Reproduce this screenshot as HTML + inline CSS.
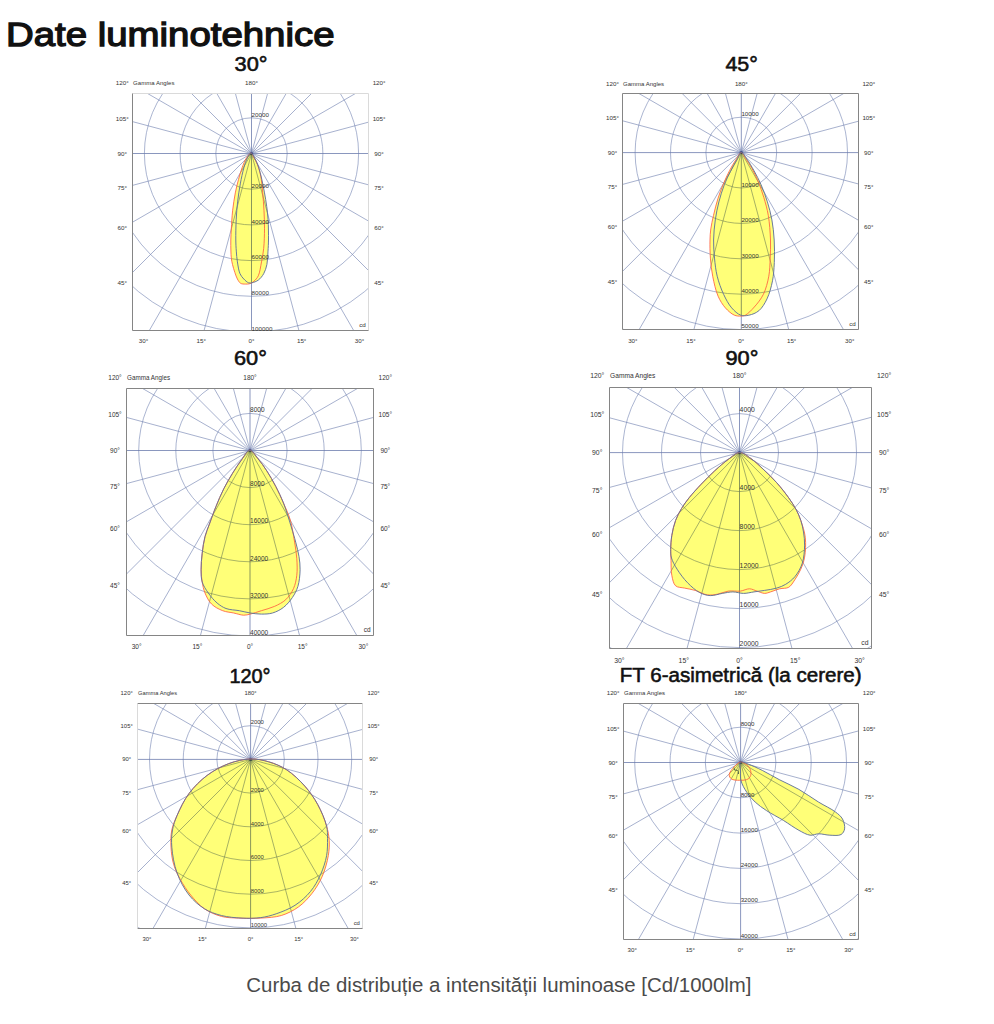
<!DOCTYPE html>
<html><head><meta charset="utf-8"><style>
html,body{margin:0;padding:0;background:#fff;width:994px;height:1024px;overflow:hidden}
svg{display:block}
</style></head><body>
<svg width="994" height="1024" viewBox="0 0 994 1024">
<text x="6" y="46.3" font-family="Liberation Sans, sans-serif" font-size="33.4" fill="#111" stroke="#111" stroke-width="1.3" textLength="328.5" lengthAdjust="spacingAndGlyphs">Date luminotehnice</text>
<g font-family="Liberation Sans, sans-serif" fill="#111" stroke="#111" stroke-width="0.55" font-size="19.5">
<text x="234.6" y="71.2" textLength="33" lengthAdjust="spacingAndGlyphs">30°</text>
<text x="725.4" y="71.2" textLength="32.5" lengthAdjust="spacingAndGlyphs">45°</text>
<text x="233.9" y="365.2" textLength="33" lengthAdjust="spacingAndGlyphs">60°</text>
<text x="725.4" y="364.8" textLength="33" lengthAdjust="spacingAndGlyphs">90°</text>
<text x="229.4" y="682.7" textLength="41.2" lengthAdjust="spacingAndGlyphs">120°</text>
<text x="619.8" y="682.3" textLength="241.8" lengthAdjust="spacingAndGlyphs">FT 6-asimetrică (la cerere)</text>
</g>
<clipPath id="c1"><rect x="132.5" y="93.5" width="236" height="237"/></clipPath>
<rect x="132.5" y="93.5" width="236" height="237" fill="#fff"/>
<g clip-path="url(#c1)">
<circle cx="251.5" cy="153.5" r="35.7" fill="none" stroke="#7787b5" stroke-width="0.62"/>
<circle cx="251.5" cy="153.5" r="71.4" fill="none" stroke="#7787b5" stroke-width="0.62"/>
<circle cx="251.5" cy="153.5" r="107.1" fill="none" stroke="#7787b5" stroke-width="0.62"/>
<circle cx="251.5" cy="153.5" r="142.8" fill="none" stroke="#7787b5" stroke-width="0.62"/>
<circle cx="251.5" cy="153.5" r="178.5" fill="none" stroke="#7787b5" stroke-width="0.62"/>
<circle cx="251.5" cy="153.5" r="214.2" fill="none" stroke="#7787b5" stroke-width="0.62"/>
<line x1="251.5" y1="153.5" x2="343.9" y2="498.34" stroke="#7080b0" stroke-width="0.62"/>
<line x1="251.5" y1="153.5" x2="430" y2="462.67" stroke="#7080b0" stroke-width="0.62"/>
<line x1="251.5" y1="153.5" x2="503.94" y2="405.94" stroke="#7080b0" stroke-width="0.62"/>
<line x1="251.5" y1="153.5" x2="560.67" y2="332" stroke="#7080b0" stroke-width="0.62"/>
<line x1="251.5" y1="153.5" x2="596.34" y2="245.9" stroke="#7080b0" stroke-width="0.62"/>
<line x1="251.5" y1="153.5" x2="596.34" y2="61.1" stroke="#7080b0" stroke-width="0.62"/>
<line x1="251.5" y1="153.5" x2="560.67" y2="-25" stroke="#7080b0" stroke-width="0.62"/>
<line x1="251.5" y1="153.5" x2="503.94" y2="-98.94" stroke="#7080b0" stroke-width="0.62"/>
<line x1="251.5" y1="153.5" x2="430" y2="-155.67" stroke="#7080b0" stroke-width="0.62"/>
<line x1="251.5" y1="153.5" x2="343.9" y2="-191.34" stroke="#7080b0" stroke-width="0.62"/>
<line x1="251.5" y1="153.5" x2="159.1" y2="-191.34" stroke="#7080b0" stroke-width="0.62"/>
<line x1="251.5" y1="153.5" x2="73" y2="-155.67" stroke="#7080b0" stroke-width="0.62"/>
<line x1="251.5" y1="153.5" x2="-0.94" y2="-98.94" stroke="#7080b0" stroke-width="0.62"/>
<line x1="251.5" y1="153.5" x2="-57.67" y2="-25" stroke="#7080b0" stroke-width="0.62"/>
<line x1="251.5" y1="153.5" x2="-93.34" y2="61.1" stroke="#7080b0" stroke-width="0.62"/>
<line x1="251.5" y1="153.5" x2="-93.34" y2="245.9" stroke="#7080b0" stroke-width="0.62"/>
<line x1="251.5" y1="153.5" x2="-57.67" y2="332" stroke="#7080b0" stroke-width="0.62"/>
<line x1="251.5" y1="153.5" x2="-0.94" y2="405.94" stroke="#7080b0" stroke-width="0.62"/>
<line x1="251.5" y1="153.5" x2="73" y2="462.67" stroke="#7080b0" stroke-width="0.62"/>
<line x1="251.5" y1="153.5" x2="159.1" y2="498.34" stroke="#7080b0" stroke-width="0.62"/>
<line x1="132.5" y1="153.5" x2="368.5" y2="153.5" stroke="#6374a8" stroke-width="0.75"/>
<line x1="251.5" y1="93.5" x2="251.5" y2="330.5" stroke="#6374a8" stroke-width="0.75"/>
<circle cx="251.5" cy="153.5" r="1.6" fill="#3d4f8a"/>
<g style="mix-blend-mode:multiply">
<path d="M251,153 C249.74,152.91 247.85,155.85 246.5,157.9 C244.79,160.5 243.4,164.25 242.1,167.7 C240.71,171.39 239.6,175.34 238.5,179.4 C237.32,183.72 236.24,188.06 235.3,192.9 C234.23,198.43 233.27,204.81 232.6,210.8 C231.93,216.78 231.61,223.51 231.3,228.8 C231.06,232.97 230.87,236.28 230.8,240 C230.73,243.68 230.79,247.73 230.9,251 C230.99,253.63 231.02,255.8 231.3,258.1 C231.57,260.3 231.96,262.26 232.5,264.5 C233.12,267.06 234.03,270.08 234.9,272.6 C235.68,274.88 236.37,277.14 237.4,279 C238.31,280.64 239.22,282.46 240.6,283.3 C241.92,284.1 243.8,284.05 245.4,284.1 C247,284.15 248.75,284.1 250.2,283.6 C251.6,283.11 252.78,282.29 254,281.2 C255.51,279.85 257.15,278.18 258.3,275.8 C259.95,272.37 260.59,266.51 261.5,261.9 C262.39,257.38 263.2,253.33 263.7,248.4 C264.3,242.49 264.46,235.19 264.5,228.8 C264.54,222.67 264.3,216.79 264,210.8 C263.7,204.82 263.23,198.71 262.7,192.9 C262.19,187.36 261.89,181.71 260.9,176.7 C260.01,172.22 258.68,167.74 257.3,164.2 C256.21,161.41 254.88,159.02 253.7,157 C252.79,155.44 252.07,153.08 251,153Z" fill="#ffff78" stroke="none"/>
<path d="M251,153 C249.8,153 248.47,155.89 247.4,157.9 C246,160.53 244.97,163.99 243.9,167.7 C242.55,172.39 241.33,178.34 240.3,183.9 C239.22,189.72 238.28,195.9 237.6,201.9 C236.92,207.86 236.5,213.65 236.2,219.8 C235.88,226.33 235.73,234.27 235.8,240 C235.85,244.25 236.03,247.43 236.3,251.1 C236.57,254.73 236.81,258.24 237.4,261.9 C238.02,265.76 238.64,270.65 240,273.7 C241,275.94 242.34,277.47 243.8,279 C245.22,280.49 247.06,282.26 248.6,282.8 C249.73,283.19 250.65,283.05 251.9,282.8 C253.72,282.43 256.4,281.5 258.3,280.1 C260.38,278.57 262.29,276.17 263.7,273.7 C265.22,271.03 266.18,267.9 266.9,264.5 C267.75,260.5 267.73,255.36 268,251.1 C268.25,247.23 268.45,244.25 268.5,240 C268.57,234.27 268.47,225.85 268.1,219.8 C267.79,214.84 267.3,210.78 266.7,206.3 C266.1,201.82 265.31,197.37 264.5,192.9 C263.68,188.4 262.85,183.87 261.8,179.4 C260.75,174.91 259.57,169.86 258.2,166 C257.11,162.91 255.94,160.2 254.6,157.9 C253.49,155.99 252.2,153 251,153Z" fill="#ffff78" stroke="none"/>
</g>
<path d="M251,153 C249.74,152.91 247.85,155.85 246.5,157.9 C244.79,160.5 243.4,164.25 242.1,167.7 C240.71,171.39 239.6,175.34 238.5,179.4 C237.32,183.72 236.24,188.06 235.3,192.9 C234.23,198.43 233.27,204.81 232.6,210.8 C231.93,216.78 231.61,223.51 231.3,228.8 C231.06,232.97 230.87,236.28 230.8,240 C230.73,243.68 230.79,247.73 230.9,251 C230.99,253.63 231.02,255.8 231.3,258.1 C231.57,260.3 231.96,262.26 232.5,264.5 C233.12,267.06 234.03,270.08 234.9,272.6 C235.68,274.88 236.37,277.14 237.4,279 C238.31,280.64 239.22,282.46 240.6,283.3 C241.92,284.1 243.8,284.05 245.4,284.1 C247,284.15 248.75,284.1 250.2,283.6 C251.6,283.11 252.78,282.29 254,281.2 C255.51,279.85 257.15,278.18 258.3,275.8 C259.95,272.37 260.59,266.51 261.5,261.9 C262.39,257.38 263.2,253.33 263.7,248.4 C264.3,242.49 264.46,235.19 264.5,228.8 C264.54,222.67 264.3,216.79 264,210.8 C263.7,204.82 263.23,198.71 262.7,192.9 C262.19,187.36 261.89,181.71 260.9,176.7 C260.01,172.22 258.68,167.74 257.3,164.2 C256.21,161.41 254.88,159.02 253.7,157 C252.79,155.44 252.07,153.08 251,153Z" fill="none" stroke="#ff6040" stroke-width="0.85"/>
<path d="M251,153 C249.8,153 248.47,155.89 247.4,157.9 C246,160.53 244.97,163.99 243.9,167.7 C242.55,172.39 241.33,178.34 240.3,183.9 C239.22,189.72 238.28,195.9 237.6,201.9 C236.92,207.86 236.5,213.65 236.2,219.8 C235.88,226.33 235.73,234.27 235.8,240 C235.85,244.25 236.03,247.43 236.3,251.1 C236.57,254.73 236.81,258.24 237.4,261.9 C238.02,265.76 238.64,270.65 240,273.7 C241,275.94 242.34,277.47 243.8,279 C245.22,280.49 247.06,282.26 248.6,282.8 C249.73,283.19 250.65,283.05 251.9,282.8 C253.72,282.43 256.4,281.5 258.3,280.1 C260.38,278.57 262.29,276.17 263.7,273.7 C265.22,271.03 266.18,267.9 266.9,264.5 C267.75,260.5 267.73,255.36 268,251.1 C268.25,247.23 268.45,244.25 268.5,240 C268.57,234.27 268.47,225.85 268.1,219.8 C267.79,214.84 267.3,210.78 266.7,206.3 C266.1,201.82 265.31,197.37 264.5,192.9 C263.68,188.4 262.85,183.87 261.8,179.4 C260.75,174.91 259.57,169.86 258.2,166 C257.11,162.91 255.94,160.2 254.6,157.9 C253.49,155.99 252.2,153 251,153Z" fill="none" stroke="#62739a" stroke-width="0.95"/>
</g>
<line x1="132.5" y1="93.5" x2="368.5" y2="93.5" stroke="#dadada" stroke-width="1"/>
<line x1="368.5" y1="93.5" x2="368.5" y2="330.5" stroke="#dadada" stroke-width="1"/>
<line x1="132.5" y1="330.5" x2="368.5" y2="330.5" stroke="#858585" stroke-width="1"/>
<line x1="132.5" y1="93.5" x2="132.5" y2="330.5" stroke="#858585" stroke-width="1"/>
<g font-family="Liberation Sans, sans-serif" font-size="6.252542372881357" fill="#333333" stroke="#333333" stroke-width="0">
<text x="122.2" y="85.12" text-anchor="middle">120°</text>
<text x="379.1" y="85.12" text-anchor="middle">120°</text>
<text x="133.1" y="85.12" textLength="41.35" lengthAdjust="spacingAndGlyphs">Gamma Angles</text>
<text x="251.5" y="85.12" text-anchor="middle">180°</text>
<text x="122.2" y="121.07" text-anchor="middle">105°</text>
<text x="379.1" y="121.07" text-anchor="middle">105°</text>
<text x="122.2" y="155.72" text-anchor="middle">90°</text>
<text x="379.1" y="155.72" text-anchor="middle">90°</text>
<text x="122.2" y="190.36" text-anchor="middle">75°</text>
<text x="379.1" y="190.36" text-anchor="middle">75°</text>
<text x="122.2" y="230.37" text-anchor="middle">60°</text>
<text x="379.1" y="230.37" text-anchor="middle">60°</text>
<text x="122.2" y="285.02" text-anchor="middle">45°</text>
<text x="379.1" y="285.02" text-anchor="middle">45°</text>
<text x="143.42" y="342.92" text-anchor="middle">30°</text>
<text x="201.34" y="342.92" text-anchor="middle">15°</text>
<text x="251.5" y="342.92" text-anchor="middle">0°</text>
<text x="301.66" y="342.92" text-anchor="middle">15°</text>
<text x="359.58" y="342.92" text-anchor="middle">30°</text>
<text x="251.6" y="116.5" text-anchor="start">20000</text>
<text x="251.6" y="187.9" text-anchor="start">20000</text>
<text x="251.6" y="223.6" text-anchor="start">40000</text>
<text x="251.6" y="259.3" text-anchor="start">60000</text>
<text x="251.6" y="295" text-anchor="start">80000</text>
<text x="251.6" y="330.7" text-anchor="start">100000</text>
<text x="362.45" y="327.07" text-anchor="middle">cd</text>
</g>
<clipPath id="c2"><rect x="622.5" y="93.5" width="236" height="236"/></clipPath>
<rect x="622.5" y="93.5" width="236" height="236" fill="#fff"/>
<g clip-path="url(#c2)">
<circle cx="741.3" cy="152.6" r="35.4" fill="none" stroke="#7787b5" stroke-width="0.62"/>
<circle cx="741.3" cy="152.6" r="70.8" fill="none" stroke="#7787b5" stroke-width="0.62"/>
<circle cx="741.3" cy="152.6" r="106.2" fill="none" stroke="#7787b5" stroke-width="0.62"/>
<circle cx="741.3" cy="152.6" r="141.6" fill="none" stroke="#7787b5" stroke-width="0.62"/>
<circle cx="741.3" cy="152.6" r="177" fill="none" stroke="#7787b5" stroke-width="0.62"/>
<circle cx="741.3" cy="152.6" r="212.4" fill="none" stroke="#7787b5" stroke-width="0.62"/>
<line x1="741.3" y1="152.6" x2="832.92" y2="494.54" stroke="#7080b0" stroke-width="0.62"/>
<line x1="741.3" y1="152.6" x2="918.3" y2="459.17" stroke="#7080b0" stroke-width="0.62"/>
<line x1="741.3" y1="152.6" x2="991.62" y2="402.92" stroke="#7080b0" stroke-width="0.62"/>
<line x1="741.3" y1="152.6" x2="1047.87" y2="329.6" stroke="#7080b0" stroke-width="0.62"/>
<line x1="741.3" y1="152.6" x2="1083.24" y2="244.22" stroke="#7080b0" stroke-width="0.62"/>
<line x1="741.3" y1="152.6" x2="1083.24" y2="60.98" stroke="#7080b0" stroke-width="0.62"/>
<line x1="741.3" y1="152.6" x2="1047.87" y2="-24.4" stroke="#7080b0" stroke-width="0.62"/>
<line x1="741.3" y1="152.6" x2="991.62" y2="-97.72" stroke="#7080b0" stroke-width="0.62"/>
<line x1="741.3" y1="152.6" x2="918.3" y2="-153.97" stroke="#7080b0" stroke-width="0.62"/>
<line x1="741.3" y1="152.6" x2="832.92" y2="-189.34" stroke="#7080b0" stroke-width="0.62"/>
<line x1="741.3" y1="152.6" x2="649.68" y2="-189.34" stroke="#7080b0" stroke-width="0.62"/>
<line x1="741.3" y1="152.6" x2="564.3" y2="-153.97" stroke="#7080b0" stroke-width="0.62"/>
<line x1="741.3" y1="152.6" x2="490.98" y2="-97.72" stroke="#7080b0" stroke-width="0.62"/>
<line x1="741.3" y1="152.6" x2="434.73" y2="-24.4" stroke="#7080b0" stroke-width="0.62"/>
<line x1="741.3" y1="152.6" x2="399.36" y2="60.98" stroke="#7080b0" stroke-width="0.62"/>
<line x1="741.3" y1="152.6" x2="399.36" y2="244.22" stroke="#7080b0" stroke-width="0.62"/>
<line x1="741.3" y1="152.6" x2="434.73" y2="329.6" stroke="#7080b0" stroke-width="0.62"/>
<line x1="741.3" y1="152.6" x2="490.98" y2="402.92" stroke="#7080b0" stroke-width="0.62"/>
<line x1="741.3" y1="152.6" x2="564.3" y2="459.17" stroke="#7080b0" stroke-width="0.62"/>
<line x1="741.3" y1="152.6" x2="649.68" y2="494.54" stroke="#7080b0" stroke-width="0.62"/>
<line x1="622.5" y1="152.6" x2="858.5" y2="152.6" stroke="#6374a8" stroke-width="0.75"/>
<line x1="741.3" y1="93.5" x2="741.3" y2="329.5" stroke="#6374a8" stroke-width="0.75"/>
<circle cx="741.3" cy="152.6" r="1.6" fill="#3d4f8a"/>
<g style="mix-blend-mode:multiply">
<path d="M741.3,152.5 C739.59,152.48 737.69,157 735.9,159.7 C733.79,162.88 731.61,166.66 729.6,170.5 C727.42,174.68 725.32,179.32 723.4,183.9 C721.44,188.58 719.61,193.25 718,198.3 C716.28,203.71 714.74,210.02 713.5,215.4 C712.4,220.15 711.38,224.6 710.8,228.9 C710.28,232.76 710.1,235.85 710,240 C709.87,245.3 709.95,252.08 710.4,258.1 C710.85,264.15 711.49,270.06 712.7,276.2 C713.99,282.74 715.65,290.57 718.1,296.2 C720.1,300.79 722.53,304.65 725.4,307.9 C728.03,310.88 731.48,313.93 734.4,315.2 C736.58,316.15 738.86,316.16 740.8,316.1 C742.44,316.05 743.67,316.02 745.3,315.2 C747.96,313.86 751.45,310.2 754.3,307 C757.53,303.37 761.03,299.13 763.4,294.3 C766,288.99 767.67,282.29 768.8,276.2 C769.91,270.23 769.92,264.14 770.2,258.1 C770.48,252.07 770.74,246.49 770.5,240 C770.22,232.42 769.57,222.92 768.3,215.4 C767.2,208.89 765.52,203.12 763.8,197.4 C762.19,192.05 760.4,186.98 758.4,182.1 C756.49,177.44 754.34,172.76 752.1,168.7 C750.11,165.08 747.76,161.71 745.8,158.8 C744.21,156.44 742.88,152.52 741.3,152.5Z" fill="#ffff78" stroke="none"/>
<path d="M741.3,152.5 C739.64,152.62 738.38,156.98 736.8,159.7 C734.82,163.1 732.53,167.34 730.5,171.4 C728.36,175.68 726.16,180 724.3,184.8 C722.25,190.09 720.39,196.09 718.9,201.9 C717.39,207.78 716.18,213.71 715.3,219.9 C714.38,226.39 713.71,233.47 713.6,240 C713.49,246.19 713.9,252.08 714.5,258.1 C715.1,264.15 715.72,270.24 717.2,276.2 C718.72,282.31 721.03,288.81 723.6,294.3 C725.94,299.28 728.55,304.28 731.7,307.9 C734.4,311.01 737.65,314.09 740.8,315.2 C743.42,316.12 746.12,315.8 748.9,315.2 C752.13,314.51 756.02,313.11 758.9,310.7 C762.19,307.95 764.81,303.44 767,298.9 C769.51,293.67 771.28,286.9 772.5,280.8 C773.7,274.8 774,269 774.3,262.6 C774.64,255.48 774.63,247.3 774.2,240 C773.79,233.09 773.08,226.38 771.9,219.9 C770.77,213.7 769.21,207.78 767.4,201.9 C765.61,196.08 763.44,190.18 761.1,184.8 C758.91,179.75 756.4,174.98 753.9,170.5 C751.59,166.35 749.05,162.03 746.7,158.8 C744.87,156.29 742.94,152.38 741.3,152.5Z" fill="#ffff78" stroke="none"/>
</g>
<path d="M741.3,152.5 C739.59,152.48 737.69,157 735.9,159.7 C733.79,162.88 731.61,166.66 729.6,170.5 C727.42,174.68 725.32,179.32 723.4,183.9 C721.44,188.58 719.61,193.25 718,198.3 C716.28,203.71 714.74,210.02 713.5,215.4 C712.4,220.15 711.38,224.6 710.8,228.9 C710.28,232.76 710.1,235.85 710,240 C709.87,245.3 709.95,252.08 710.4,258.1 C710.85,264.15 711.49,270.06 712.7,276.2 C713.99,282.74 715.65,290.57 718.1,296.2 C720.1,300.79 722.53,304.65 725.4,307.9 C728.03,310.88 731.48,313.93 734.4,315.2 C736.58,316.15 738.86,316.16 740.8,316.1 C742.44,316.05 743.67,316.02 745.3,315.2 C747.96,313.86 751.45,310.2 754.3,307 C757.53,303.37 761.03,299.13 763.4,294.3 C766,288.99 767.67,282.29 768.8,276.2 C769.91,270.23 769.92,264.14 770.2,258.1 C770.48,252.07 770.74,246.49 770.5,240 C770.22,232.42 769.57,222.92 768.3,215.4 C767.2,208.89 765.52,203.12 763.8,197.4 C762.19,192.05 760.4,186.98 758.4,182.1 C756.49,177.44 754.34,172.76 752.1,168.7 C750.11,165.08 747.76,161.71 745.8,158.8 C744.21,156.44 742.88,152.52 741.3,152.5Z" fill="none" stroke="#ff6040" stroke-width="0.85"/>
<path d="M741.3,152.5 C739.64,152.62 738.38,156.98 736.8,159.7 C734.82,163.1 732.53,167.34 730.5,171.4 C728.36,175.68 726.16,180 724.3,184.8 C722.25,190.09 720.39,196.09 718.9,201.9 C717.39,207.78 716.18,213.71 715.3,219.9 C714.38,226.39 713.71,233.47 713.6,240 C713.49,246.19 713.9,252.08 714.5,258.1 C715.1,264.15 715.72,270.24 717.2,276.2 C718.72,282.31 721.03,288.81 723.6,294.3 C725.94,299.28 728.55,304.28 731.7,307.9 C734.4,311.01 737.65,314.09 740.8,315.2 C743.42,316.12 746.12,315.8 748.9,315.2 C752.13,314.51 756.02,313.11 758.9,310.7 C762.19,307.95 764.81,303.44 767,298.9 C769.51,293.67 771.28,286.9 772.5,280.8 C773.7,274.8 774,269 774.3,262.6 C774.64,255.48 774.63,247.3 774.2,240 C773.79,233.09 773.08,226.38 771.9,219.9 C770.77,213.7 769.21,207.78 767.4,201.9 C765.61,196.08 763.44,190.18 761.1,184.8 C758.91,179.75 756.4,174.98 753.9,170.5 C751.59,166.35 749.05,162.03 746.7,158.8 C744.87,156.29 742.94,152.38 741.3,152.5Z" fill="none" stroke="#62739a" stroke-width="0.95"/>
</g>
<line x1="622.5" y1="93.5" x2="858.5" y2="93.5" stroke="#858585" stroke-width="1"/>
<line x1="858.5" y1="93.5" x2="858.5" y2="329.5" stroke="#858585" stroke-width="1"/>
<line x1="622.5" y1="329.5" x2="858.5" y2="329.5" stroke="#858585" stroke-width="1"/>
<line x1="622.5" y1="93.5" x2="622.5" y2="329.5" stroke="#858585" stroke-width="1"/>
<g font-family="Liberation Sans, sans-serif" font-size="6.2" fill="#333333" stroke="#333333" stroke-width="0">
<text x="612.5" y="86.3" text-anchor="middle">120°</text>
<text x="868.8" y="86.3" text-anchor="middle">120°</text>
<text x="623.1" y="86.3" textLength="41" lengthAdjust="spacingAndGlyphs">Gamma Angles</text>
<text x="741.3" y="86.3" text-anchor="middle">180°</text>
<text x="612.5" y="120.29" text-anchor="middle">105°</text>
<text x="868.8" y="120.29" text-anchor="middle">105°</text>
<text x="612.5" y="154.8" text-anchor="middle">90°</text>
<text x="868.8" y="154.8" text-anchor="middle">90°</text>
<text x="612.5" y="189.31" text-anchor="middle">75°</text>
<text x="868.8" y="189.31" text-anchor="middle">75°</text>
<text x="612.5" y="229.16" text-anchor="middle">60°</text>
<text x="868.8" y="229.16" text-anchor="middle">60°</text>
<text x="612.5" y="283.6" text-anchor="middle">45°</text>
<text x="868.8" y="283.6" text-anchor="middle">45°</text>
<text x="632.82" y="342.7" text-anchor="middle">30°</text>
<text x="690.95" y="342.7" text-anchor="middle">15°</text>
<text x="741.3" y="342.7" text-anchor="middle">0°</text>
<text x="791.65" y="342.7" text-anchor="middle">15°</text>
<text x="849.78" y="342.7" text-anchor="middle">30°</text>
<text x="741.4" y="115.9" text-anchor="start">10000</text>
<text x="741.4" y="186.7" text-anchor="start">10000</text>
<text x="741.4" y="222.1" text-anchor="start">20000</text>
<text x="741.4" y="257.5" text-anchor="start">30000</text>
<text x="741.4" y="292.9" text-anchor="start">40000</text>
<text x="741.4" y="328.3" text-anchor="start">50000</text>
<text x="852.5" y="326.1" text-anchor="middle">cd</text>
</g>
<clipPath id="c3"><rect x="126.5" y="388.5" width="247" height="247"/></clipPath>
<rect x="126.5" y="388.5" width="247" height="247" fill="#fff"/>
<g clip-path="url(#c3)">
<circle cx="250" cy="450.5" r="37.1" fill="none" stroke="#7787b5" stroke-width="0.62"/>
<circle cx="250" cy="450.5" r="74.2" fill="none" stroke="#7787b5" stroke-width="0.62"/>
<circle cx="250" cy="450.5" r="111.3" fill="none" stroke="#7787b5" stroke-width="0.62"/>
<circle cx="250" cy="450.5" r="148.4" fill="none" stroke="#7787b5" stroke-width="0.62"/>
<circle cx="250" cy="450.5" r="185.5" fill="none" stroke="#7787b5" stroke-width="0.62"/>
<circle cx="250" cy="450.5" r="222.6" fill="none" stroke="#7787b5" stroke-width="0.62"/>
<line x1="250" y1="450.5" x2="346.02" y2="808.86" stroke="#7080b0" stroke-width="0.62"/>
<line x1="250" y1="450.5" x2="435.5" y2="771.8" stroke="#7080b0" stroke-width="0.62"/>
<line x1="250" y1="450.5" x2="512.34" y2="712.84" stroke="#7080b0" stroke-width="0.62"/>
<line x1="250" y1="450.5" x2="571.3" y2="636" stroke="#7080b0" stroke-width="0.62"/>
<line x1="250" y1="450.5" x2="608.36" y2="546.52" stroke="#7080b0" stroke-width="0.62"/>
<line x1="250" y1="450.5" x2="608.36" y2="354.48" stroke="#7080b0" stroke-width="0.62"/>
<line x1="250" y1="450.5" x2="571.3" y2="265" stroke="#7080b0" stroke-width="0.62"/>
<line x1="250" y1="450.5" x2="512.34" y2="188.16" stroke="#7080b0" stroke-width="0.62"/>
<line x1="250" y1="450.5" x2="435.5" y2="129.2" stroke="#7080b0" stroke-width="0.62"/>
<line x1="250" y1="450.5" x2="346.02" y2="92.14" stroke="#7080b0" stroke-width="0.62"/>
<line x1="250" y1="450.5" x2="153.98" y2="92.14" stroke="#7080b0" stroke-width="0.62"/>
<line x1="250" y1="450.5" x2="64.5" y2="129.2" stroke="#7080b0" stroke-width="0.62"/>
<line x1="250" y1="450.5" x2="-12.34" y2="188.16" stroke="#7080b0" stroke-width="0.62"/>
<line x1="250" y1="450.5" x2="-71.3" y2="265" stroke="#7080b0" stroke-width="0.62"/>
<line x1="250" y1="450.5" x2="-108.36" y2="354.48" stroke="#7080b0" stroke-width="0.62"/>
<line x1="250" y1="450.5" x2="-108.36" y2="546.52" stroke="#7080b0" stroke-width="0.62"/>
<line x1="250" y1="450.5" x2="-71.3" y2="636" stroke="#7080b0" stroke-width="0.62"/>
<line x1="250" y1="450.5" x2="-12.34" y2="712.84" stroke="#7080b0" stroke-width="0.62"/>
<line x1="250" y1="450.5" x2="64.5" y2="771.8" stroke="#7080b0" stroke-width="0.62"/>
<line x1="250" y1="450.5" x2="153.98" y2="808.86" stroke="#7080b0" stroke-width="0.62"/>
<line x1="126.5" y1="450.5" x2="373.5" y2="450.5" stroke="#6374a8" stroke-width="0.75"/>
<line x1="250" y1="388.5" x2="250" y2="635.5" stroke="#6374a8" stroke-width="0.75"/>
<circle cx="250" cy="450.5" r="1.6" fill="#3d4f8a"/>
<g style="mix-blend-mode:multiply">
<path d="M249.8,450.2 C246.99,450.28 244.21,456.32 241.5,459.9 C238.46,463.9 235.48,468.54 232.6,473.2 C229.57,478.12 226.52,483.29 223.8,488.7 C220.97,494.34 218.41,500.46 216,506.4 C213.62,512.27 211.36,518.7 209.4,524.1 C207.76,528.62 206.17,532.08 205,536.6 C203.69,541.69 202.85,547.65 202.2,553.2 C201.55,558.72 201.04,564.69 201.1,569.8 C201.15,574.18 201.53,578.06 202.2,582 C202.85,585.79 203.52,589.43 205,593 C206.58,596.81 208.65,601.15 211.6,604.1 C214.55,607.05 218.88,609.21 222.7,610.7 C226.26,612.09 230.12,612.23 233.7,613 C237.11,613.73 240.71,615.12 243.7,615.2 C246.12,615.26 247.84,614.68 250.3,614.1 C253.54,613.34 257.54,611.93 261.4,610.7 C265.64,609.35 270.57,608.19 274.7,606.3 C278.65,604.49 282.59,602.59 285.7,599.7 C288.89,596.73 291.65,592.65 293.5,588.6 C295.36,584.52 296.22,580.02 296.8,575.3 C297.43,570.11 297.16,564.22 296.8,558.7 C296.43,553.15 295.57,548.03 294.6,542.1 C293.46,535.18 292.23,526.52 290.2,519.7 C288.41,513.66 285.89,508.6 283.5,503.1 C281.09,497.54 278.59,491.88 275.8,486.5 C273.05,481.18 269.99,475.78 266.9,471 C264.07,466.61 261.12,462.42 258.1,458.8 C255.4,455.58 252.52,450.12 249.8,450.2Z" fill="#ffff78" stroke="none"/>
<path d="M249.8,450.2 C246.99,450.28 244.21,456.32 241.5,459.9 C238.46,463.9 235.48,468.54 232.6,473.2 C229.57,478.12 226.52,483.29 223.8,488.7 C220.97,494.34 218.41,500.46 216,506.4 C213.62,512.27 211.36,518.7 209.4,524.1 C207.76,528.62 206.17,532.08 205,536.6 C203.69,541.69 202.85,547.65 202.2,553.2 C201.55,558.72 201.04,564.69 201.1,569.8 C201.15,574.18 201.02,578.16 202.2,582 C203.4,585.9 205.86,589.54 208.3,593 C210.81,596.56 213.95,600.34 217.1,603 C219.89,605.36 222.59,607.22 226,608.5 C229.87,609.95 235.08,609.91 239.3,610.7 C243.15,611.42 246.61,612.43 250.3,613 C253.98,613.56 257.7,614.1 261.4,614.1 C265.1,614.1 268.9,614.05 272.5,613 C276.28,611.89 280.23,609.91 283.5,607.4 C286.9,604.79 289.98,601.07 292.4,597.5 C294.74,594.05 296.62,590.59 297.9,586.4 C299.38,581.53 299.97,575.03 300.1,569.8 C300.22,565.13 299.7,561 299,556.5 C298.27,551.77 296.94,546.86 295.7,542.1 C294.47,537.36 293.25,533.35 291.6,528 C289.4,520.86 286.4,510.48 283.5,503.1 C281.07,496.93 278.59,491.88 275.8,486.5 C273.05,481.18 269.99,475.78 266.9,471 C264.07,466.61 261.12,462.42 258.1,458.8 C255.4,455.58 252.52,450.12 249.8,450.2Z" fill="#ffff78" stroke="none"/>
</g>
<path d="M249.8,450.2 C246.99,450.28 244.21,456.32 241.5,459.9 C238.46,463.9 235.48,468.54 232.6,473.2 C229.57,478.12 226.52,483.29 223.8,488.7 C220.97,494.34 218.41,500.46 216,506.4 C213.62,512.27 211.36,518.7 209.4,524.1 C207.76,528.62 206.17,532.08 205,536.6 C203.69,541.69 202.85,547.65 202.2,553.2 C201.55,558.72 201.04,564.69 201.1,569.8 C201.15,574.18 201.53,578.06 202.2,582 C202.85,585.79 203.52,589.43 205,593 C206.58,596.81 208.65,601.15 211.6,604.1 C214.55,607.05 218.88,609.21 222.7,610.7 C226.26,612.09 230.12,612.23 233.7,613 C237.11,613.73 240.71,615.12 243.7,615.2 C246.12,615.26 247.84,614.68 250.3,614.1 C253.54,613.34 257.54,611.93 261.4,610.7 C265.64,609.35 270.57,608.19 274.7,606.3 C278.65,604.49 282.59,602.59 285.7,599.7 C288.89,596.73 291.65,592.65 293.5,588.6 C295.36,584.52 296.22,580.02 296.8,575.3 C297.43,570.11 297.16,564.22 296.8,558.7 C296.43,553.15 295.57,548.03 294.6,542.1 C293.46,535.18 292.23,526.52 290.2,519.7 C288.41,513.66 285.89,508.6 283.5,503.1 C281.09,497.54 278.59,491.88 275.8,486.5 C273.05,481.18 269.99,475.78 266.9,471 C264.07,466.61 261.12,462.42 258.1,458.8 C255.4,455.58 252.52,450.12 249.8,450.2Z" fill="none" stroke="#ff6040" stroke-width="0.85"/>
<path d="M249.8,450.2 C246.99,450.28 244.21,456.32 241.5,459.9 C238.46,463.9 235.48,468.54 232.6,473.2 C229.57,478.12 226.52,483.29 223.8,488.7 C220.97,494.34 218.41,500.46 216,506.4 C213.62,512.27 211.36,518.7 209.4,524.1 C207.76,528.62 206.17,532.08 205,536.6 C203.69,541.69 202.85,547.65 202.2,553.2 C201.55,558.72 201.04,564.69 201.1,569.8 C201.15,574.18 201.02,578.16 202.2,582 C203.4,585.9 205.86,589.54 208.3,593 C210.81,596.56 213.95,600.34 217.1,603 C219.89,605.36 222.59,607.22 226,608.5 C229.87,609.95 235.08,609.91 239.3,610.7 C243.15,611.42 246.61,612.43 250.3,613 C253.98,613.56 257.7,614.1 261.4,614.1 C265.1,614.1 268.9,614.05 272.5,613 C276.28,611.89 280.23,609.91 283.5,607.4 C286.9,604.79 289.98,601.07 292.4,597.5 C294.74,594.05 296.62,590.59 297.9,586.4 C299.38,581.53 299.97,575.03 300.1,569.8 C300.22,565.13 299.7,561 299,556.5 C298.27,551.77 296.94,546.86 295.7,542.1 C294.47,537.36 293.25,533.35 291.6,528 C289.4,520.86 286.4,510.48 283.5,503.1 C281.07,496.93 278.59,491.88 275.8,486.5 C273.05,481.18 269.99,475.78 266.9,471 C264.07,466.61 261.12,462.42 258.1,458.8 C255.4,455.58 252.52,450.12 249.8,450.2Z" fill="none" stroke="#62739a" stroke-width="0.95"/>
</g>
<line x1="126.5" y1="388.5" x2="373.5" y2="388.5" stroke="#858585" stroke-width="1"/>
<line x1="373.5" y1="388.5" x2="373.5" y2="635.5" stroke="#858585" stroke-width="1"/>
<line x1="126.5" y1="635.5" x2="373.5" y2="635.5" stroke="#858585" stroke-width="1"/>
<line x1="126.5" y1="388.5" x2="126.5" y2="635.5" stroke="#858585" stroke-width="1"/>
<g font-family="Liberation Sans, sans-serif" font-size="6.497740112994352" fill="#333333" stroke="#333333" stroke-width="0">
<text x="115" y="379.71" text-anchor="middle">120°</text>
<text x="385.3" y="379.71" text-anchor="middle">120°</text>
<text x="127.1" y="379.71" textLength="42.97" lengthAdjust="spacingAndGlyphs">Gamma Angles</text>
<text x="250" y="379.71" text-anchor="middle">180°</text>
<text x="115" y="416.63" text-anchor="middle">105°</text>
<text x="385.3" y="416.63" text-anchor="middle">105°</text>
<text x="115" y="452.81" text-anchor="middle">90°</text>
<text x="385.3" y="452.81" text-anchor="middle">90°</text>
<text x="115" y="488.98" text-anchor="middle">75°</text>
<text x="385.3" y="488.98" text-anchor="middle">75°</text>
<text x="115" y="530.75" text-anchor="middle">60°</text>
<text x="385.3" y="530.75" text-anchor="middle">60°</text>
<text x="115" y="587.81" text-anchor="middle">45°</text>
<text x="385.3" y="587.81" text-anchor="middle">45°</text>
<text x="136.61" y="649.21" text-anchor="middle">30°</text>
<text x="197.37" y="649.21" text-anchor="middle">15°</text>
<text x="250" y="649.21" text-anchor="middle">0°</text>
<text x="302.63" y="649.21" text-anchor="middle">15°</text>
<text x="363.39" y="649.21" text-anchor="middle">30°</text>
<text x="250.1" y="412.1" text-anchor="start">8000</text>
<text x="250.1" y="486.3" text-anchor="start">8000</text>
<text x="250.1" y="523.4" text-anchor="start">16000</text>
<text x="250.1" y="560.5" text-anchor="start">24000</text>
<text x="250.1" y="597.6" text-anchor="start">32000</text>
<text x="250.1" y="634.7" text-anchor="start">40000</text>
<text x="367.21" y="631.94" text-anchor="middle">cd</text>
</g>
<clipPath id="c4"><rect x="609.5" y="387.5" width="262" height="261"/></clipPath>
<rect x="609.5" y="387.5" width="262" height="261" fill="#fff"/>
<g clip-path="url(#c4)">
<circle cx="739.5" cy="452.6" r="39" fill="none" stroke="#7787b5" stroke-width="0.62"/>
<circle cx="739.5" cy="452.6" r="78" fill="none" stroke="#7787b5" stroke-width="0.62"/>
<circle cx="739.5" cy="452.6" r="117" fill="none" stroke="#7787b5" stroke-width="0.62"/>
<circle cx="739.5" cy="452.6" r="156" fill="none" stroke="#7787b5" stroke-width="0.62"/>
<circle cx="739.5" cy="452.6" r="195" fill="none" stroke="#7787b5" stroke-width="0.62"/>
<circle cx="739.5" cy="452.6" r="234" fill="none" stroke="#7787b5" stroke-width="0.62"/>
<line x1="739.5" y1="452.6" x2="840.44" y2="829.31" stroke="#7080b0" stroke-width="0.62"/>
<line x1="739.5" y1="452.6" x2="934.5" y2="790.35" stroke="#7080b0" stroke-width="0.62"/>
<line x1="739.5" y1="452.6" x2="1015.27" y2="728.37" stroke="#7080b0" stroke-width="0.62"/>
<line x1="739.5" y1="452.6" x2="1077.25" y2="647.6" stroke="#7080b0" stroke-width="0.62"/>
<line x1="739.5" y1="452.6" x2="1116.21" y2="553.54" stroke="#7080b0" stroke-width="0.62"/>
<line x1="739.5" y1="452.6" x2="1116.21" y2="351.66" stroke="#7080b0" stroke-width="0.62"/>
<line x1="739.5" y1="452.6" x2="1077.25" y2="257.6" stroke="#7080b0" stroke-width="0.62"/>
<line x1="739.5" y1="452.6" x2="1015.27" y2="176.83" stroke="#7080b0" stroke-width="0.62"/>
<line x1="739.5" y1="452.6" x2="934.5" y2="114.85" stroke="#7080b0" stroke-width="0.62"/>
<line x1="739.5" y1="452.6" x2="840.44" y2="75.89" stroke="#7080b0" stroke-width="0.62"/>
<line x1="739.5" y1="452.6" x2="638.56" y2="75.89" stroke="#7080b0" stroke-width="0.62"/>
<line x1="739.5" y1="452.6" x2="544.5" y2="114.85" stroke="#7080b0" stroke-width="0.62"/>
<line x1="739.5" y1="452.6" x2="463.73" y2="176.83" stroke="#7080b0" stroke-width="0.62"/>
<line x1="739.5" y1="452.6" x2="401.75" y2="257.6" stroke="#7080b0" stroke-width="0.62"/>
<line x1="739.5" y1="452.6" x2="362.79" y2="351.66" stroke="#7080b0" stroke-width="0.62"/>
<line x1="739.5" y1="452.6" x2="362.79" y2="553.54" stroke="#7080b0" stroke-width="0.62"/>
<line x1="739.5" y1="452.6" x2="401.75" y2="647.6" stroke="#7080b0" stroke-width="0.62"/>
<line x1="739.5" y1="452.6" x2="463.73" y2="728.37" stroke="#7080b0" stroke-width="0.62"/>
<line x1="739.5" y1="452.6" x2="544.5" y2="790.35" stroke="#7080b0" stroke-width="0.62"/>
<line x1="739.5" y1="452.6" x2="638.56" y2="829.31" stroke="#7080b0" stroke-width="0.62"/>
<line x1="609.5" y1="452.6" x2="871.5" y2="452.6" stroke="#6374a8" stroke-width="0.75"/>
<line x1="739.5" y1="387.5" x2="739.5" y2="648.5" stroke="#6374a8" stroke-width="0.75"/>
<circle cx="739.5" cy="452.6" r="1.6" fill="#3d4f8a"/>
<g style="mix-blend-mode:multiply">
<path d="M739.7,452.5 C735.91,452.59 732.23,456.57 728.4,459.3 C723.95,462.47 719.25,466.64 714.8,470.7 C710.18,474.92 705.53,479.62 701.2,484.2 C696.98,488.66 692.55,493.46 689.1,497.8 C686.18,501.47 683.84,504.67 681.6,508.4 C679.33,512.19 677.2,516.08 675.6,520.4 C673.87,525.06 672.62,530.52 671.8,535.5 C671.02,540.25 670.81,545.23 670.7,549.6 C670.61,553.38 670.84,556.36 671,560.2 C671.19,564.79 670.88,570.78 671.8,575.3 C672.59,579.18 673.28,583.69 675.6,585.8 C677.72,587.72 681.47,587.36 684.6,588.1 C687.98,588.9 691.59,589.34 695.2,590.4 C699.14,591.55 703.35,594.34 707.3,594.9 C710.87,595.4 714.32,594.72 717.8,594.1 C721.36,593.47 724.72,591.61 728.4,591.1 C732.24,590.57 736.7,591.56 740.4,591.1 C743.67,590.69 746.62,588.73 749.5,588.8 C752.13,588.87 754.49,590.34 757,591.1 C759.52,591.87 762.21,593.34 764.6,593.4 C766.71,593.45 768.41,592.55 770.6,591.9 C773.33,591.09 776.64,589.57 779.7,588.8 C782.68,588.05 786.2,588.75 788.7,587.3 C791.27,585.81 792.89,582.61 794.8,579.8 C796.95,576.65 799.17,572.93 800.8,569.2 C802.45,565.41 803.81,561.75 804.6,557.2 C805.58,551.5 806,543.79 805.3,537.5 C804.64,531.55 802.5,525.35 800.8,520.4 C799.43,516.42 798.16,513.45 796.3,509.9 C794.22,505.93 791.65,501.97 788.7,497.8 C785.27,492.95 780.97,487.49 776.7,482.7 C772.44,477.92 767.57,473.27 763.1,469.1 C759.02,465.3 755.13,461.45 751,458.6 C747.31,456.05 743.44,452.41 739.7,452.5Z" fill="#ffff78" stroke="none"/>
<path d="M739.7,452.5 C735.91,452.59 732.23,456.57 728.4,459.3 C723.95,462.47 719.25,466.64 714.8,470.7 C710.18,474.92 705.53,479.62 701.2,484.2 C696.98,488.66 692.55,493.46 689.1,497.8 C686.18,501.47 683.84,504.67 681.6,508.4 C679.33,512.19 677.2,516.08 675.6,520.4 C673.87,525.06 672.62,530.52 671.8,535.5 C671.02,540.25 670.67,545.51 670.7,549.6 C670.73,552.76 670.66,555.08 671.5,558 C672.52,561.56 674.72,565.4 677.1,569.2 C679.89,573.65 683.72,578.83 687.6,582.8 C691.29,586.58 695.58,590.46 699.7,592.6 C703.17,594.4 706.64,595.43 710.3,595.6 C714.16,595.78 718.42,594.03 722.3,593.4 C725.94,592.81 729.37,591.9 732.9,591.9 C736.43,591.9 739.98,593.4 743.5,593.4 C747.01,593.4 750.49,592.4 754,591.9 C757.52,591.4 760.96,591 764.6,590.4 C768.51,589.75 773.02,589.21 776.7,588.1 C779.98,587.11 782.81,586.05 785.7,584.3 C788.87,582.38 792.16,579.98 794.8,576.8 C797.82,573.16 800.66,568.23 802.3,563.2 C804.08,557.75 804.48,550.65 804.6,545.1 C804.7,540.39 804.16,536.21 803.5,532 C802.87,527.99 802.02,524.12 800.8,520.4 C799.61,516.76 798.16,513.45 796.3,509.9 C794.22,505.93 791.65,501.97 788.7,497.8 C785.27,492.95 780.97,487.49 776.7,482.7 C772.44,477.92 767.57,473.27 763.1,469.1 C759.02,465.3 755.13,461.45 751,458.6 C747.31,456.05 743.44,452.41 739.7,452.5Z" fill="#ffff78" stroke="none"/>
</g>
<path d="M739.7,452.5 C735.91,452.59 732.23,456.57 728.4,459.3 C723.95,462.47 719.25,466.64 714.8,470.7 C710.18,474.92 705.53,479.62 701.2,484.2 C696.98,488.66 692.55,493.46 689.1,497.8 C686.18,501.47 683.84,504.67 681.6,508.4 C679.33,512.19 677.2,516.08 675.6,520.4 C673.87,525.06 672.62,530.52 671.8,535.5 C671.02,540.25 670.81,545.23 670.7,549.6 C670.61,553.38 670.84,556.36 671,560.2 C671.19,564.79 670.88,570.78 671.8,575.3 C672.59,579.18 673.28,583.69 675.6,585.8 C677.72,587.72 681.47,587.36 684.6,588.1 C687.98,588.9 691.59,589.34 695.2,590.4 C699.14,591.55 703.35,594.34 707.3,594.9 C710.87,595.4 714.32,594.72 717.8,594.1 C721.36,593.47 724.72,591.61 728.4,591.1 C732.24,590.57 736.7,591.56 740.4,591.1 C743.67,590.69 746.62,588.73 749.5,588.8 C752.13,588.87 754.49,590.34 757,591.1 C759.52,591.87 762.21,593.34 764.6,593.4 C766.71,593.45 768.41,592.55 770.6,591.9 C773.33,591.09 776.64,589.57 779.7,588.8 C782.68,588.05 786.2,588.75 788.7,587.3 C791.27,585.81 792.89,582.61 794.8,579.8 C796.95,576.65 799.17,572.93 800.8,569.2 C802.45,565.41 803.81,561.75 804.6,557.2 C805.58,551.5 806,543.79 805.3,537.5 C804.64,531.55 802.5,525.35 800.8,520.4 C799.43,516.42 798.16,513.45 796.3,509.9 C794.22,505.93 791.65,501.97 788.7,497.8 C785.27,492.95 780.97,487.49 776.7,482.7 C772.44,477.92 767.57,473.27 763.1,469.1 C759.02,465.3 755.13,461.45 751,458.6 C747.31,456.05 743.44,452.41 739.7,452.5Z" fill="none" stroke="#ff6040" stroke-width="0.85"/>
<path d="M739.7,452.5 C735.91,452.59 732.23,456.57 728.4,459.3 C723.95,462.47 719.25,466.64 714.8,470.7 C710.18,474.92 705.53,479.62 701.2,484.2 C696.98,488.66 692.55,493.46 689.1,497.8 C686.18,501.47 683.84,504.67 681.6,508.4 C679.33,512.19 677.2,516.08 675.6,520.4 C673.87,525.06 672.62,530.52 671.8,535.5 C671.02,540.25 670.67,545.51 670.7,549.6 C670.73,552.76 670.66,555.08 671.5,558 C672.52,561.56 674.72,565.4 677.1,569.2 C679.89,573.65 683.72,578.83 687.6,582.8 C691.29,586.58 695.58,590.46 699.7,592.6 C703.17,594.4 706.64,595.43 710.3,595.6 C714.16,595.78 718.42,594.03 722.3,593.4 C725.94,592.81 729.37,591.9 732.9,591.9 C736.43,591.9 739.98,593.4 743.5,593.4 C747.01,593.4 750.49,592.4 754,591.9 C757.52,591.4 760.96,591 764.6,590.4 C768.51,589.75 773.02,589.21 776.7,588.1 C779.98,587.11 782.81,586.05 785.7,584.3 C788.87,582.38 792.16,579.98 794.8,576.8 C797.82,573.16 800.66,568.23 802.3,563.2 C804.08,557.75 804.48,550.65 804.6,545.1 C804.7,540.39 804.16,536.21 803.5,532 C802.87,527.99 802.02,524.12 800.8,520.4 C799.61,516.76 798.16,513.45 796.3,509.9 C794.22,505.93 791.65,501.97 788.7,497.8 C785.27,492.95 780.97,487.49 776.7,482.7 C772.44,477.92 767.57,473.27 763.1,469.1 C759.02,465.3 755.13,461.45 751,458.6 C747.31,456.05 743.44,452.41 739.7,452.5Z" fill="none" stroke="#62739a" stroke-width="0.95"/>
</g>
<line x1="609.5" y1="387.5" x2="871.5" y2="387.5" stroke="#858585" stroke-width="1"/>
<line x1="871.5" y1="387.5" x2="871.5" y2="648.5" stroke="#858585" stroke-width="1"/>
<line x1="609.5" y1="648.5" x2="871.5" y2="648.5" stroke="#858585" stroke-width="1"/>
<line x1="609.5" y1="387.5" x2="609.5" y2="648.5" stroke="#858585" stroke-width="1"/>
<g font-family="Liberation Sans, sans-serif" font-size="6.830508474576271" fill="#333333" stroke="#333333" stroke-width="0">
<text x="597.2" y="377.92" text-anchor="middle">120°</text>
<text x="884.1" y="377.92" text-anchor="middle">120°</text>
<text x="610.1" y="377.92" textLength="45.17" lengthAdjust="spacingAndGlyphs">Gamma Angles</text>
<text x="739.5" y="377.92" text-anchor="middle">180°</text>
<text x="597.2" y="416.89" text-anchor="middle">105°</text>
<text x="884.1" y="416.89" text-anchor="middle">105°</text>
<text x="597.2" y="455.02" text-anchor="middle">90°</text>
<text x="884.1" y="455.02" text-anchor="middle">90°</text>
<text x="597.2" y="493.15" text-anchor="middle">75°</text>
<text x="884.1" y="493.15" text-anchor="middle">75°</text>
<text x="597.2" y="537.18" text-anchor="middle">60°</text>
<text x="884.1" y="537.18" text-anchor="middle">60°</text>
<text x="597.2" y="597.32" text-anchor="middle">45°</text>
<text x="884.1" y="597.32" text-anchor="middle">45°</text>
<text x="619.41" y="663.02" text-anchor="middle">30°</text>
<text x="683.77" y="663.02" text-anchor="middle">15°</text>
<text x="739.5" y="663.02" text-anchor="middle">0°</text>
<text x="795.23" y="663.02" text-anchor="middle">15°</text>
<text x="859.59" y="663.02" text-anchor="middle">30°</text>
<text x="739.6" y="412.3" text-anchor="start">4000</text>
<text x="739.6" y="490.3" text-anchor="start">4000</text>
<text x="739.6" y="529.3" text-anchor="start">8000</text>
<text x="739.6" y="568.3" text-anchor="start">12000</text>
<text x="739.6" y="607.3" text-anchor="start">16000</text>
<text x="739.6" y="646.3" text-anchor="start">20000</text>
<text x="864.89" y="644.75" text-anchor="middle">cd</text>
</g>
<clipPath id="c5"><rect x="137.5" y="703.5" width="225" height="225"/></clipPath>
<rect x="137.5" y="703.5" width="225" height="225" fill="#fff"/>
<g clip-path="url(#c5)">
<circle cx="250.6" cy="759.4" r="33.7" fill="none" stroke="#7787b5" stroke-width="0.62"/>
<circle cx="250.6" cy="759.4" r="67.4" fill="none" stroke="#7787b5" stroke-width="0.62"/>
<circle cx="250.6" cy="759.4" r="101.1" fill="none" stroke="#7787b5" stroke-width="0.62"/>
<circle cx="250.6" cy="759.4" r="134.8" fill="none" stroke="#7787b5" stroke-width="0.62"/>
<circle cx="250.6" cy="759.4" r="168.5" fill="none" stroke="#7787b5" stroke-width="0.62"/>
<circle cx="250.6" cy="759.4" r="202.2" fill="none" stroke="#7787b5" stroke-width="0.62"/>
<line x1="250.6" y1="759.4" x2="337.82" y2="1084.92" stroke="#7080b0" stroke-width="0.62"/>
<line x1="250.6" y1="759.4" x2="419.1" y2="1051.25" stroke="#7080b0" stroke-width="0.62"/>
<line x1="250.6" y1="759.4" x2="488.89" y2="997.69" stroke="#7080b0" stroke-width="0.62"/>
<line x1="250.6" y1="759.4" x2="542.45" y2="927.9" stroke="#7080b0" stroke-width="0.62"/>
<line x1="250.6" y1="759.4" x2="576.12" y2="846.62" stroke="#7080b0" stroke-width="0.62"/>
<line x1="250.6" y1="759.4" x2="576.12" y2="672.18" stroke="#7080b0" stroke-width="0.62"/>
<line x1="250.6" y1="759.4" x2="542.45" y2="590.9" stroke="#7080b0" stroke-width="0.62"/>
<line x1="250.6" y1="759.4" x2="488.89" y2="521.11" stroke="#7080b0" stroke-width="0.62"/>
<line x1="250.6" y1="759.4" x2="419.1" y2="467.55" stroke="#7080b0" stroke-width="0.62"/>
<line x1="250.6" y1="759.4" x2="337.82" y2="433.88" stroke="#7080b0" stroke-width="0.62"/>
<line x1="250.6" y1="759.4" x2="163.38" y2="433.88" stroke="#7080b0" stroke-width="0.62"/>
<line x1="250.6" y1="759.4" x2="82.1" y2="467.55" stroke="#7080b0" stroke-width="0.62"/>
<line x1="250.6" y1="759.4" x2="12.31" y2="521.11" stroke="#7080b0" stroke-width="0.62"/>
<line x1="250.6" y1="759.4" x2="-41.25" y2="590.9" stroke="#7080b0" stroke-width="0.62"/>
<line x1="250.6" y1="759.4" x2="-74.92" y2="672.18" stroke="#7080b0" stroke-width="0.62"/>
<line x1="250.6" y1="759.4" x2="-74.92" y2="846.62" stroke="#7080b0" stroke-width="0.62"/>
<line x1="250.6" y1="759.4" x2="-41.25" y2="927.9" stroke="#7080b0" stroke-width="0.62"/>
<line x1="250.6" y1="759.4" x2="12.31" y2="997.69" stroke="#7080b0" stroke-width="0.62"/>
<line x1="250.6" y1="759.4" x2="82.1" y2="1051.25" stroke="#7080b0" stroke-width="0.62"/>
<line x1="250.6" y1="759.4" x2="163.38" y2="1084.92" stroke="#7080b0" stroke-width="0.62"/>
<line x1="137.5" y1="759.4" x2="362.5" y2="759.4" stroke="#6374a8" stroke-width="0.75"/>
<line x1="250.6" y1="703.5" x2="250.6" y2="928.5" stroke="#6374a8" stroke-width="0.75"/>
<circle cx="250.6" cy="759.4" r="1.6" fill="#3d4f8a"/>
<g style="mix-blend-mode:multiply">
<path d="M250.5,759 C243.57,759.19 235.85,761 228.8,763.6 C221.36,766.34 213.69,770.48 207.1,775.4 C200.4,780.41 194.01,786.8 189,793.5 C184.08,800.09 180.2,808.55 177.2,815.2 C174.8,820.51 172.84,824.8 171.8,830 C170.71,835.42 170.7,841.41 171,847.1 C171.3,852.81 172.01,858.75 173.6,864.2 C175.17,869.58 177.64,874.58 180.4,879.6 C183.29,884.86 186.77,890.19 190.7,895 C194.71,899.91 199.14,905.12 204.3,908.7 C209.39,912.23 215.57,914.84 221.4,916.4 C226.98,917.89 232.41,917.8 238.5,918.1 C245.43,918.44 253.54,918.56 260.8,918.1 C267.79,917.66 274.93,917.43 281.3,915.5 C287.43,913.65 293.28,910.68 298.4,907 C303.56,903.29 308.14,898.39 312.1,893.3 C316.12,888.14 319.62,882.34 322.3,876.2 C325.07,869.84 327.19,862.1 328.3,855.7 C329.24,850.26 329.51,845.31 329.2,840.3 C328.9,835.45 328.12,831.25 326.6,826.1 C324.66,819.52 321.3,811.04 317.6,804.3 C314.02,797.77 309.87,791.82 304.9,786.2 C299.68,780.31 293.18,774.05 286.8,769.9 C281.05,766.16 274.87,763.62 268.7,761.8 C262.76,760.05 256.82,758.82 250.5,759Z" fill="#ffff78" stroke="none"/>
<path d="M250.5,759 C243.57,759.19 235.85,761 228.8,763.6 C221.36,766.34 213.69,770.48 207.1,775.4 C200.4,780.41 194.01,786.8 189,793.5 C184.08,800.09 180.04,808.53 177.2,815.2 C174.95,820.49 173.41,824.82 172.5,830 C171.54,835.43 171.3,840.85 171.8,847.1 C172.41,854.83 174.08,864.75 177,872.8 C179.86,880.7 184.13,888.83 189,895 C193.39,900.57 198.73,905.25 204.3,908.7 C209.58,911.97 215.33,913.94 221.4,915.5 C227.85,917.16 235.28,917.77 242,918.1 C248.4,918.42 254.89,918.4 260.8,917.6 C266.23,916.87 270.9,915.64 276.2,913.8 C282.25,911.71 289.3,909 295,905.3 C300.7,901.6 306.11,896.79 310.4,891.6 C314.62,886.5 317.9,880.5 320.6,874.5 C323.29,868.53 325.47,861.89 326.6,855.7 C327.65,849.93 327.55,843.85 327.5,838.6 C327.46,834.11 327.7,830.74 326.6,826.1 C325.1,819.73 321.3,811.04 317.6,804.3 C314.02,797.77 309.87,791.82 304.9,786.2 C299.68,780.31 293.18,774.05 286.8,769.9 C281.05,766.16 274.87,763.62 268.7,761.8 C262.76,760.05 256.82,758.82 250.5,759Z" fill="#ffff78" stroke="none"/>
</g>
<path d="M250.5,759 C243.57,759.19 235.85,761 228.8,763.6 C221.36,766.34 213.69,770.48 207.1,775.4 C200.4,780.41 194.01,786.8 189,793.5 C184.08,800.09 180.2,808.55 177.2,815.2 C174.8,820.51 172.84,824.8 171.8,830 C170.71,835.42 170.7,841.41 171,847.1 C171.3,852.81 172.01,858.75 173.6,864.2 C175.17,869.58 177.64,874.58 180.4,879.6 C183.29,884.86 186.77,890.19 190.7,895 C194.71,899.91 199.14,905.12 204.3,908.7 C209.39,912.23 215.57,914.84 221.4,916.4 C226.98,917.89 232.41,917.8 238.5,918.1 C245.43,918.44 253.54,918.56 260.8,918.1 C267.79,917.66 274.93,917.43 281.3,915.5 C287.43,913.65 293.28,910.68 298.4,907 C303.56,903.29 308.14,898.39 312.1,893.3 C316.12,888.14 319.62,882.34 322.3,876.2 C325.07,869.84 327.19,862.1 328.3,855.7 C329.24,850.26 329.51,845.31 329.2,840.3 C328.9,835.45 328.12,831.25 326.6,826.1 C324.66,819.52 321.3,811.04 317.6,804.3 C314.02,797.77 309.87,791.82 304.9,786.2 C299.68,780.31 293.18,774.05 286.8,769.9 C281.05,766.16 274.87,763.62 268.7,761.8 C262.76,760.05 256.82,758.82 250.5,759Z" fill="none" stroke="#ff6040" stroke-width="0.85"/>
<path d="M250.5,759 C243.57,759.19 235.85,761 228.8,763.6 C221.36,766.34 213.69,770.48 207.1,775.4 C200.4,780.41 194.01,786.8 189,793.5 C184.08,800.09 180.04,808.53 177.2,815.2 C174.95,820.49 173.41,824.82 172.5,830 C171.54,835.43 171.3,840.85 171.8,847.1 C172.41,854.83 174.08,864.75 177,872.8 C179.86,880.7 184.13,888.83 189,895 C193.39,900.57 198.73,905.25 204.3,908.7 C209.58,911.97 215.33,913.94 221.4,915.5 C227.85,917.16 235.28,917.77 242,918.1 C248.4,918.42 254.89,918.4 260.8,917.6 C266.23,916.87 270.9,915.64 276.2,913.8 C282.25,911.71 289.3,909 295,905.3 C300.7,901.6 306.11,896.79 310.4,891.6 C314.62,886.5 317.9,880.5 320.6,874.5 C323.29,868.53 325.47,861.89 326.6,855.7 C327.65,849.93 327.55,843.85 327.5,838.6 C327.46,834.11 327.7,830.74 326.6,826.1 C325.1,819.73 321.3,811.04 317.6,804.3 C314.02,797.77 309.87,791.82 304.9,786.2 C299.68,780.31 293.18,774.05 286.8,769.9 C281.05,766.16 274.87,763.62 268.7,761.8 C262.76,760.05 256.82,758.82 250.5,759Z" fill="none" stroke="#62739a" stroke-width="0.95"/>
</g>
<line x1="137.5" y1="703.5" x2="362.5" y2="703.5" stroke="#858585" stroke-width="1"/>
<line x1="362.5" y1="703.5" x2="362.5" y2="928.5" stroke="#dadada" stroke-width="1"/>
<line x1="137.5" y1="928.5" x2="362.5" y2="928.5" stroke="#858585" stroke-width="1"/>
<line x1="137.5" y1="703.5" x2="137.5" y2="928.5" stroke="#dadada" stroke-width="1"/>
<g font-family="Liberation Sans, sans-serif" font-size="5.902259887005651" fill="#333333" stroke="#333333" stroke-width="0">
<text x="126.7" y="695.49" text-anchor="middle">120°</text>
<text x="373.6" y="695.49" text-anchor="middle">120°</text>
<text x="138.1" y="695.49" textLength="39.03" lengthAdjust="spacingAndGlyphs">Gamma Angles</text>
<text x="250.6" y="695.49" text-anchor="middle">180°</text>
<text x="126.7" y="728.3" text-anchor="middle">105°</text>
<text x="373.6" y="728.3" text-anchor="middle">105°</text>
<text x="126.7" y="761.49" text-anchor="middle">90°</text>
<text x="373.6" y="761.49" text-anchor="middle">90°</text>
<text x="126.7" y="794.69" text-anchor="middle">75°</text>
<text x="373.6" y="794.69" text-anchor="middle">75°</text>
<text x="126.7" y="833.03" text-anchor="middle">60°</text>
<text x="373.6" y="833.03" text-anchor="middle">60°</text>
<text x="126.7" y="885.39" text-anchor="middle">45°</text>
<text x="373.6" y="885.39" text-anchor="middle">45°</text>
<text x="146.85" y="941.19" text-anchor="middle">30°</text>
<text x="202.45" y="941.19" text-anchor="middle">15°</text>
<text x="250.6" y="941.19" text-anchor="middle">0°</text>
<text x="298.75" y="941.19" text-anchor="middle">15°</text>
<text x="354.35" y="941.19" text-anchor="middle">30°</text>
<text x="250.7" y="724.4" text-anchor="start">2000</text>
<text x="250.7" y="791.8" text-anchor="start">2000</text>
<text x="250.7" y="825.5" text-anchor="start">4000</text>
<text x="250.7" y="859.2" text-anchor="start">6000</text>
<text x="250.7" y="892.9" text-anchor="start">8000</text>
<text x="250.7" y="926.6" text-anchor="start">10000</text>
<text x="356.79" y="925.26" text-anchor="middle">cd</text>
</g>
<clipPath id="c6"><rect x="623.5" y="703.5" width="235" height="236"/></clipPath>
<rect x="623.5" y="703.5" width="235" height="236" fill="#fff"/>
<g clip-path="url(#c6)">
<circle cx="740.6" cy="762.5" r="35.3" fill="none" stroke="#7787b5" stroke-width="0.62"/>
<circle cx="740.6" cy="762.5" r="70.6" fill="none" stroke="#7787b5" stroke-width="0.62"/>
<circle cx="740.6" cy="762.5" r="105.9" fill="none" stroke="#7787b5" stroke-width="0.62"/>
<circle cx="740.6" cy="762.5" r="141.2" fill="none" stroke="#7787b5" stroke-width="0.62"/>
<circle cx="740.6" cy="762.5" r="176.5" fill="none" stroke="#7787b5" stroke-width="0.62"/>
<circle cx="740.6" cy="762.5" r="211.8" fill="none" stroke="#7787b5" stroke-width="0.62"/>
<line x1="740.6" y1="762.5" x2="831.96" y2="1103.47" stroke="#7080b0" stroke-width="0.62"/>
<line x1="740.6" y1="762.5" x2="917.1" y2="1068.21" stroke="#7080b0" stroke-width="0.62"/>
<line x1="740.6" y1="762.5" x2="990.21" y2="1012.11" stroke="#7080b0" stroke-width="0.62"/>
<line x1="740.6" y1="762.5" x2="1046.31" y2="939" stroke="#7080b0" stroke-width="0.62"/>
<line x1="740.6" y1="762.5" x2="1081.57" y2="853.86" stroke="#7080b0" stroke-width="0.62"/>
<line x1="740.6" y1="762.5" x2="1081.57" y2="671.14" stroke="#7080b0" stroke-width="0.62"/>
<line x1="740.6" y1="762.5" x2="1046.31" y2="586" stroke="#7080b0" stroke-width="0.62"/>
<line x1="740.6" y1="762.5" x2="990.21" y2="512.89" stroke="#7080b0" stroke-width="0.62"/>
<line x1="740.6" y1="762.5" x2="917.1" y2="456.79" stroke="#7080b0" stroke-width="0.62"/>
<line x1="740.6" y1="762.5" x2="831.96" y2="421.53" stroke="#7080b0" stroke-width="0.62"/>
<line x1="740.6" y1="762.5" x2="649.24" y2="421.53" stroke="#7080b0" stroke-width="0.62"/>
<line x1="740.6" y1="762.5" x2="564.1" y2="456.79" stroke="#7080b0" stroke-width="0.62"/>
<line x1="740.6" y1="762.5" x2="490.99" y2="512.89" stroke="#7080b0" stroke-width="0.62"/>
<line x1="740.6" y1="762.5" x2="434.89" y2="586" stroke="#7080b0" stroke-width="0.62"/>
<line x1="740.6" y1="762.5" x2="399.63" y2="671.14" stroke="#7080b0" stroke-width="0.62"/>
<line x1="740.6" y1="762.5" x2="399.63" y2="853.86" stroke="#7080b0" stroke-width="0.62"/>
<line x1="740.6" y1="762.5" x2="434.89" y2="939" stroke="#7080b0" stroke-width="0.62"/>
<line x1="740.6" y1="762.5" x2="490.99" y2="1012.11" stroke="#7080b0" stroke-width="0.62"/>
<line x1="740.6" y1="762.5" x2="564.1" y2="1068.21" stroke="#7080b0" stroke-width="0.62"/>
<line x1="740.6" y1="762.5" x2="649.24" y2="1103.47" stroke="#7080b0" stroke-width="0.62"/>
<line x1="623.5" y1="762.5" x2="858.5" y2="762.5" stroke="#6374a8" stroke-width="0.75"/>
<line x1="740.6" y1="703.5" x2="740.6" y2="939.5" stroke="#6374a8" stroke-width="0.75"/>
<circle cx="740.6" cy="762.5" r="1.6" fill="#3d4f8a"/>
<polyline points="733.9,767.4 734.5,770 737.5,770.4 738.3,771.3 738.5,774" fill="none" stroke="#52648e" stroke-width="1"/>
<g style="mix-blend-mode:multiply">
<path d="M740.4,762 C738.64,762.37 735.92,764.9 734.1,766.9 C732.15,769.04 729.33,772.37 729.2,774.6 C729.11,776.21 730,777.93 731.3,778.9 C733.03,780.19 736.89,780.3 739.7,780.3 C742.52,780.3 746.3,780.22 748.2,778.9 C749.74,777.83 750.79,775.84 751,774 C751.24,771.9 750.23,768.79 748.9,766.9 C747.6,765.05 744.83,763.47 743.2,762.7 C742.16,762.21 741.46,761.78 740.4,762Z" fill="#ffff78" stroke="none"/>
<path d="M740.4,762 C741.74,760.97 745.26,763.06 748.2,764.1 C752.26,765.54 757.44,767.99 762.3,770.4 C767.73,773.09 773.32,776.54 779.2,779.6 C785.49,782.87 792.43,785.72 798.9,789.4 C805.57,793.2 812.24,798.19 818.6,802.1 C824.41,805.67 831.24,808.71 835.5,812 C838.53,814.34 840.98,816.2 842.5,819 C844.03,821.83 845.09,826.15 844.6,828.9 C844.21,831.12 843,833.37 841.1,834.5 C838.62,835.98 833.64,835.31 829.9,835.2 C826.14,835.09 822.09,833.73 818.6,833.8 C815.56,833.86 813.07,835.57 810.1,835.2 C806.56,834.76 802.85,832.41 798.9,830.3 C794.06,827.71 788.71,823.64 783.4,820.4 C777.92,817.07 771.48,813.9 766.5,810.6 C762.26,807.79 758.54,805.23 755.2,802.1 C752.01,799.11 749.16,795.84 746.8,792.3 C744.47,788.8 742.13,784.75 741.1,781 C740.19,777.68 740.51,774.33 740.4,771.1 C740.29,768 738.98,763.09 740.4,762Z" fill="#ffff78" stroke="none"/>
</g>
<path d="M740.4,762 C738.64,762.37 735.92,764.9 734.1,766.9 C732.15,769.04 729.33,772.37 729.2,774.6 C729.11,776.21 730,777.93 731.3,778.9 C733.03,780.19 736.89,780.3 739.7,780.3 C742.52,780.3 746.3,780.22 748.2,778.9 C749.74,777.83 750.79,775.84 751,774 C751.24,771.9 750.23,768.79 748.9,766.9 C747.6,765.05 744.83,763.47 743.2,762.7 C742.16,762.21 741.46,761.78 740.4,762Z" fill="none" stroke="#ff6040" stroke-width="0.85"/>
<path d="M740.4,762 C741.74,760.97 745.26,763.06 748.2,764.1 C752.26,765.54 757.44,767.99 762.3,770.4 C767.73,773.09 773.32,776.54 779.2,779.6 C785.49,782.87 792.43,785.72 798.9,789.4 C805.57,793.2 812.24,798.19 818.6,802.1 C824.41,805.67 831.24,808.71 835.5,812 C838.53,814.34 840.98,816.2 842.5,819 C844.03,821.83 845.09,826.15 844.6,828.9 C844.21,831.12 843,833.37 841.1,834.5 C838.62,835.98 833.64,835.31 829.9,835.2 C826.14,835.09 822.09,833.73 818.6,833.8 C815.56,833.86 813.07,835.57 810.1,835.2 C806.56,834.76 802.85,832.41 798.9,830.3 C794.06,827.71 788.71,823.64 783.4,820.4 C777.92,817.07 771.48,813.9 766.5,810.6 C762.26,807.79 758.54,805.23 755.2,802.1 C752.01,799.11 749.16,795.84 746.8,792.3 C744.47,788.8 742.13,784.75 741.1,781 C740.19,777.68 740.51,774.33 740.4,771.1 C740.29,768 738.98,763.09 740.4,762Z" fill="none" stroke="#62739a" stroke-width="0.95"/>
</g>
<line x1="623.5" y1="703.5" x2="858.5" y2="703.5" stroke="#858585" stroke-width="1"/>
<line x1="858.5" y1="703.5" x2="858.5" y2="939.5" stroke="#858585" stroke-width="1"/>
<line x1="623.5" y1="939.5" x2="858.5" y2="939.5" stroke="#858585" stroke-width="1"/>
<line x1="623.5" y1="703.5" x2="623.5" y2="939.5" stroke="#858585" stroke-width="1"/>
<g font-family="Liberation Sans, sans-serif" font-size="6.182485875706215" fill="#333333" stroke="#333333" stroke-width="0">
<text x="613.1" y="695.49" text-anchor="middle">120°</text>
<text x="869.2" y="695.49" text-anchor="middle">120°</text>
<text x="624.1" y="695.49" textLength="40.88" lengthAdjust="spacingAndGlyphs">Gamma Angles</text>
<text x="740.6" y="695.49" text-anchor="middle">180°</text>
<text x="613.1" y="730.53" text-anchor="middle">105°</text>
<text x="869.2" y="730.53" text-anchor="middle">105°</text>
<text x="613.1" y="764.69" text-anchor="middle">90°</text>
<text x="869.2" y="764.69" text-anchor="middle">90°</text>
<text x="613.1" y="798.86" text-anchor="middle">75°</text>
<text x="869.2" y="798.86" text-anchor="middle">75°</text>
<text x="613.1" y="838.31" text-anchor="middle">60°</text>
<text x="869.2" y="838.31" text-anchor="middle">60°</text>
<text x="613.1" y="892.19" text-anchor="middle">45°</text>
<text x="869.2" y="892.19" text-anchor="middle">45°</text>
<text x="632.29" y="952.29" text-anchor="middle">30°</text>
<text x="690.33" y="952.29" text-anchor="middle">15°</text>
<text x="740.6" y="952.29" text-anchor="middle">0°</text>
<text x="790.87" y="952.29" text-anchor="middle">15°</text>
<text x="848.91" y="952.29" text-anchor="middle">30°</text>
<text x="740.7" y="725.9" text-anchor="start">8000</text>
<text x="740.7" y="796.5" text-anchor="start">8000</text>
<text x="740.7" y="831.8" text-anchor="start">16000</text>
<text x="740.7" y="867.1" text-anchor="start">24000</text>
<text x="740.7" y="902.4" text-anchor="start">32000</text>
<text x="740.7" y="937.7" text-anchor="start">40000</text>
<text x="852.52" y="936.11" text-anchor="middle">cd</text>
</g>
<text x="246.3" y="992.4" font-family="Liberation Sans, sans-serif" font-size="20" fill="#4a4a4a" textLength="505.2" lengthAdjust="spacingAndGlyphs">Curba de distribuție a intensității luminoase [Cd/1000lm]</text>
</svg>
</body></html>
